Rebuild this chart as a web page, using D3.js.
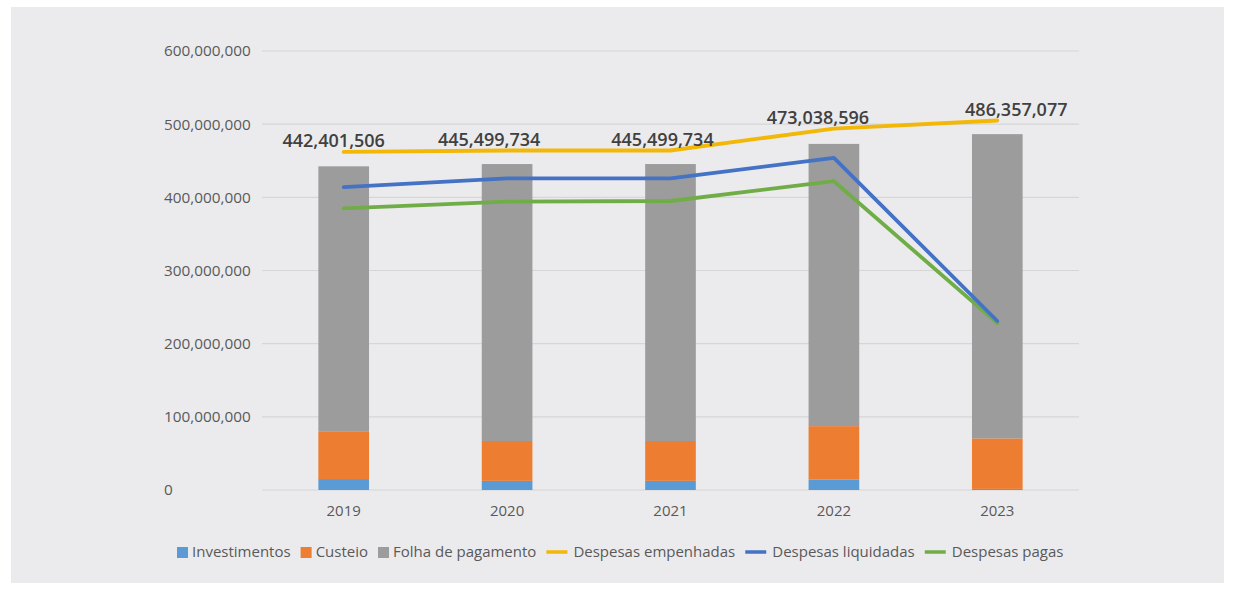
<!DOCTYPE html>
<html>
<head>
<meta charset="utf-8">
<script src="https://cdn.jsdelivr.net/npm/d3@7"></script>
<style>
  html, body { margin: 0; padding: 0; background: #ffffff; }
  svg { display: block; }
</style>
</head>
<body>
<svg id="chart" width="1236" height="590"></svg>
<script>
// ---- data ----
const years = ["2019", "2020", "2021", "2022", "2023"];
const investimentos = [15000000, 12500000, 12500000, 14500000, 1500000];
const custeio = [64500000, 54500000, 54500000, 72800000, 69000000];
const totais = [442401506, 445499734, 445499734, 473038596, 486357077];
const folha = totais.map((t, i) => t - investimentos[i] - custeio[i]);
const despesasEmpenhadas = [462000000, 464000000, 464000000, 494000000, 505000000];
const despesasLiquidadas = [414000000, 426000000, 426000000, 454000000, 231000000];
const despesasPagas = [385000000, 394000000, 395000000, 422000000, 228000000];
const yTicks = [0, 100000000, 200000000, 300000000, 400000000, 500000000, 600000000];
const legendLabels = ["Investimentos", "Custeio", "Folha de pagamento", "Despesas empenhadas", "Despesas liquidadas", "Despesas pagas"];

// ---- layout / style ----
const labelNudgeX = [-10, -18, -8, -16, 19];
const colors = {
  inv: "#5b9bd5", cus: "#ed7d31", fol: "#9c9c9c",
  emp: "#f2b707", liq: "#4472c4", pag: "#70ad47"
};
const svg = d3.select("#chart");
svg.append("rect").attr("x", 11).attr("y", 7).attr("width", 1213).attr("height", 576).attr("fill", "#ebebed");

const x0 = 262, x1 = 1079, yTop = 51, yBot = 490;
const x = d3.scaleBand().domain(years).range([x0, x1]).paddingInner(0.69).paddingOuter(0.345);
const y = d3.scaleLinear().domain([0, 600000000]).range([yBot, yTop]);
const fmt = d3.format(",");

// gridlines
svg.append("g").selectAll("line").data(yTicks).join("line")
  .attr("x1", x0).attr("x2", x1)
  .attr("y1", d => y(d)).attr("y2", d => y(d))
  .attr("stroke", "#d6d6d8").attr("stroke-width", 1.2);

// y tick labels (left aligned)
svg.append("g").selectAll("text").data(yTicks).join("text")
  .attr("x", 164).attr("y", d => y(d)).attr("dy", "0.35em")
  .attr("font-family", "'Open Sans', sans-serif").attr("font-size", 15.3)
  .attr("fill", "#595959").text(d => fmt(d));

// x axis labels
svg.append("g").selectAll("text").data(years).join("text")
  .attr("x", d => x(d) + x.bandwidth() / 2).attr("y", 516)
  .attr("text-anchor", "middle")
  .attr("font-family", "'Open Sans', sans-serif").attr("font-size", 15)
  .attr("fill", "#595959").text(d => d);

// stacked bars
const rows = years.map((yr, i) => ({ year: yr, inv: investimentos[i], cus: custeio[i], fol: folha[i] }));
const stack = d3.stack().keys(["inv", "cus", "fol"])(rows);
svg.append("g").selectAll("g").data(stack).join("g")
  .attr("fill", d => colors[d.key])
  .selectAll("rect").data(d => d).join("rect")
  .attr("x", d => x(d.data.year))
  .attr("width", x.bandwidth())
  .attr("y", d => y(d[1]))
  .attr("height", d => y(d[0]) - y(d[1]));

// lines
const lineGen = d3.line()
  .x((d, i) => x(years[i]) + x.bandwidth() / 2)
  .y(d => y(d))
  .curve(d3.curveLinear);
[[despesasPagas, colors.pag], [despesasLiquidadas, colors.liq], [despesasEmpenhadas, colors.emp]].forEach(([s, c]) => {
  svg.append("path").datum(s).attr("d", lineGen)
    .attr("fill", "none").attr("stroke", c).attr("stroke-width", 3.8)
    .attr("stroke-linejoin", "round").attr("stroke-linecap", "round");
});

// total labels
svg.append("g").selectAll("text").data(totais).join("text")
  .attr("x", (d, i) => x(years[i]) + x.bandwidth() / 2 + labelNudgeX[i])
  .attr("y", (d, i) => y(despesasEmpenhadas[i]) - 5)
  .attr("text-anchor", "middle")
  .attr("font-family", "'Open Sans', sans-serif").attr("font-size", 18).attr("font-weight", 600)
  .attr("fill", "#404040").text(d => fmt(d));

// legend
const legend = [
  { label: legendLabels[0], color: colors.inv, type: "box" },
  { label: legendLabels[1], color: colors.cus, type: "box" },
  { label: legendLabels[2], color: colors.fol, type: "box" },
  { label: legendLabels[3], color: colors.emp, type: "line" },
  { label: legendLabels[4], color: colors.liq, type: "line" },
  { label: legendLabels[5], color: colors.pag, type: "line" }
];
const lg = svg.append("g").attr("transform", "translate(177,552)");
let cx = 0;
legend.forEach(item => {
  const g = lg.append("g").attr("transform", `translate(${cx},0)`);
  let tx;
  if (item.type === "box") {
    g.append("rect").attr("x", 0).attr("y", -5).attr("width", 11).attr("height", 11).attr("fill", item.color);
    tx = 15;
  } else {
    g.append("line").attr("x1", 0).attr("x2", 21).attr("y1", 0).attr("y2", 0)
      .attr("stroke", item.color).attr("stroke-width", 3.5);
    tx = 27;
  }
  const t = g.append("text").attr("x", tx).attr("y", 0).attr("dy", "0.35em")
    .attr("font-family", "'Open Sans', sans-serif").attr("font-size", 15)
    .attr("fill", "#595959").text(item.label);
  cx += tx + t.node().getComputedTextLength() + 10;
});
</script>
</body>
</html>
